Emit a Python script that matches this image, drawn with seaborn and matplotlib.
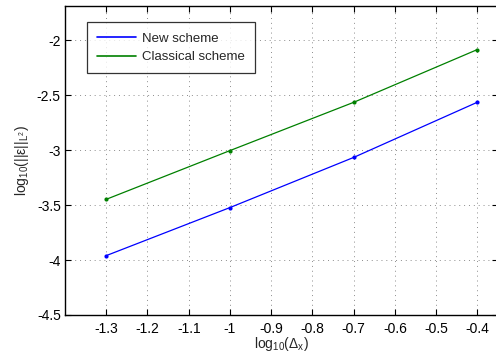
import numpy as np
import pandas as pd
import matplotlib
matplotlib.use('Agg')
import matplotlib.pyplot as plt
import seaborn as sns

# values
log_dx = [-1.3, -1.0, -0.7, -0.4]
new_scheme = [-3.96, -3.523, -3.067, -2.565]
classical_scheme = [-3.448, -3.005, -2.566, -2.086]
x_ticks = [-1.3, -1.2, -1.1, -1.0, -0.9, -0.8, -0.7, -0.6, -0.5, -0.4]
y_ticks = [-4.5, -4, -3.5, -3, -2.5, -2]

df = pd.DataFrame({
    'x': log_dx * 2,
    'y': new_scheme + classical_scheme,
    'scheme': ['New scheme'] * 4 + ['Classical scheme'] * 4,
})

sns.set_style('white')
plt.rcParams['font.family'] = ['Liberation Sans', 'DejaVu Sans']
plt.rcParams['mathtext.fontset'] = 'custom'
plt.rcParams['mathtext.rm'] = 'Liberation Sans'
plt.rcParams['mathtext.it'] = 'Liberation Sans'
plt.rcParams['mathtext.default'] = 'regular'

fs = 9.5

fig = plt.figure(figsize=(4.96, 3.53), dpi=100)
ax = fig.add_axes([65 / 496, 38 / 353, 433 / 496, 309 / 353])

sns.lineplot(data=df, x='x', y='y', hue='scheme',
             palette={'New scheme': '#0000ff', 'Classical scheme': '#008000'},
             marker='o', markersize=3, markeredgewidth=0, linewidth=0.9, ax=ax)

ax.set_xlim(-1.4, -0.35)
ax.set_ylim(-4.5, -1.69)
ax.set_xticks(x_ticks)
ax.set_xticklabels(['-1.3', '-1.2', '-1.1', '-1', '-0.9', '-0.8', '-0.7', '-0.6', '-0.5', '-0.4'])
ax.set_yticks(y_ticks)
ax.set_yticklabels(['-4.5', '-4', '-3.5', '-3', '-2.5', '-2'])
ax.tick_params(direction='in', length=4, width=0.8, labelsize=10, colors='black',
               top=True, right=True, bottom=True, left=True)
ax.tick_params(axis='x', pad=5)
ax.tick_params(axis='y', pad=3)
ax.grid(True, linestyle=(0, (1, 4)), color='#8c8c8c', linewidth=0.7)
for s in ax.spines.values():
    s.set_color('black')
    s.set_linewidth(1.0)

ax.set_xlabel('log$_{10}$(Δ$_x$)', fontsize=10, labelpad=-1)
ax.set_ylabel('log$_{10}$(||ε||$_{L^2}$)', fontsize=10, labelpad=4)

leg = ax.legend(loc='upper left', bbox_to_anchor=(22 / 433, 1 - 16.5 / 309), fontsize=fs,
                frameon=True, fancybox=False, handlelength=3.0, handletextpad=0.4,
                borderpad=0.75, labelspacing=0.5, borderaxespad=0)
leg.get_frame().set_edgecolor('black')
leg.get_frame().set_linewidth(0.9)
for h in leg.legend_handles:
    h.set_marker('')
    h.set_linewidth(1.2)

fig.savefig('out.png', dpi=100)
